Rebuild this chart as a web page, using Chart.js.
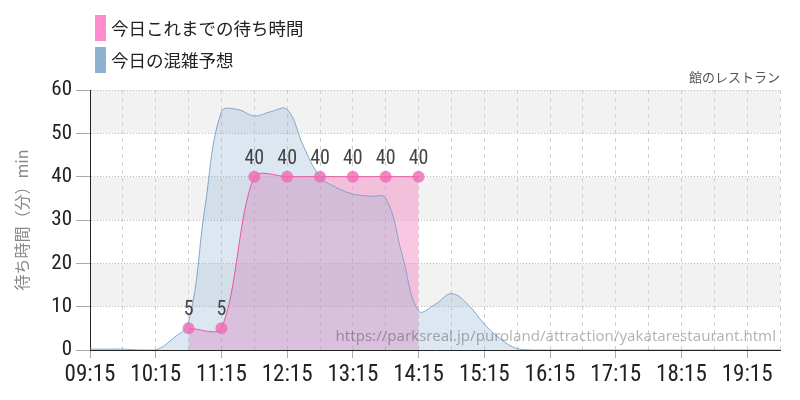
<!DOCTYPE html>
<html lang="ja">
<head>
<meta charset="utf-8">
<title>館のレストラン 待ち時間</title>
<script src="https://cdn.jsdelivr.net/npm/chart.js@4/dist/chart.umd.min.js"></script>
<style>
  html, body { margin: 0; padding: 0; background: #fff; }
  #wrap { width: 800px; height: 400px; position: relative; }
</style>
</head>
<body>
<div id="wrap"><canvas id="waitChart"></canvas></div>
<script>
// forecast, every 15 minutes
var slotTimes = ["09:15", "09:30", "09:45", "10:00", "10:15", "10:30", "10:45", "11:00",
    "11:15", "11:30", "11:45", "12:00", "12:15", "12:30", "12:45", "13:00",
    "13:15", "13:30", "13:45", "14:00", "14:15", "14:30", "14:45", "15:00",
    "15:15", "15:30", "15:45", "16:00", "16:15", "16:30", "16:45", "17:00",
    "17:15", "17:30", "17:45", "18:00", "18:15", "18:30", "18:45", "19:00",
    "19:15", "19:30", "19:45"];
var forecastValues = [0.2, 0.2, 0.2, 0, 0, 2.5, 6.5, 33,
    55, 55.5, 54, 55, 55.5, 47, 40, 37.5,
    36, 35.5, 35, 22, 9, 10.5, 13, 10.5,
    6, 2.5, 0.3, 0, 0, 0, 0, 0,
    0, 0, 0, 0, 0, 0, 0, 0,
    0, 0, 0];

// measured so far today
var actualTimes = ["10:45", "11:15", "11:45", "12:15", "12:45", "13:15", "13:45", "14:15"];
var actualValues = [5, 5, 40, 40, 40, 40, 40, 40];

var hourLabels = ["09:15", "10:15", "11:15", "12:15", "13:15", "14:15", "15:15",
    "16:15", "17:15", "18:15", "19:15"];
var grayBands = [[10, 20], [30, 40], [50, 60]];

var legendNames = ["今日これまでの待ち時間", "今日の混雑予想"];
var legendColors = ["#ff8ccb", "#8fb1d0"];
var cornerText = "館のレストラン";
var sourceUrl = "https://parksreal.jp/puroland/attraction/yakatarestaurant.html";

var narrow = "'Roboto Condensed', 'Liberation Sans Narrow', 'DejaVu Sans Condensed', 'DejaVu Sans', sans-serif";
var jp = "'Noto Sans CJK JP', 'Noto Sans', sans-serif";

function toMin(t) {
    var p = t.split(":");
    return +p[0] * 60 + +p[1];
}
function fmt(m) {
    var h = Math.floor(m / 60), mm = m % 60;
    return (h < 10 ? "0" : "") + h + ":" + (mm < 10 ? "0" : "") + mm;
}

var xMin = toMin(slotTimes[0]);
var xMax = toMin(slotTimes[slotTimes.length - 1]);

var bandsPlugin = {
    id: "bands",
    beforeDraw: function (chart) {
        var ctx = chart.ctx, a = chart.chartArea, y = chart.scales.y;
        ctx.save();
        ctx.fillStyle = "#f2f2f2";
        grayBands.forEach(function (b) {
            var top = y.getPixelForValue(b[1]), bot = y.getPixelForValue(b[0]);
            ctx.fillRect(a.left, top, a.right - a.left, bot - top);
        });
        ctx.restore();
    }
};

var pointLabels = {
    id: "pointLabels",
    afterDatasetsDraw: function (chart) {
        var ctx = chart.ctx;
        var meta = chart.getDatasetMeta(0);
        ctx.save();
        ctx.font = "condensed 20px " + narrow;
        ctx.fillStyle = "#444";
        ctx.textAlign = "center";
        ctx.textBaseline = "bottom";
        meta.data.forEach(function (pt, i) {
            ctx.fillText(String(actualValues[i]), pt.x, pt.y - 8);
        });
        ctx.restore();
    }
};

var extras = {
    id: "extras",
    afterDraw: function (chart) {
        var ctx = chart.ctx, a = chart.chartArea;
        ctx.save();
        // legend, stacked
        ctx.textAlign = "left";
        ctx.textBaseline = "middle";
        ctx.font = "17.5px " + jp;
        legendNames.forEach(function (name, i) {
            var top = 15 + i * 32;
            ctx.fillStyle = legendColors[i];
            ctx.fillRect(95, top, 11, 26);
            ctx.fillStyle = "#222";
            ctx.fillText(name, 111, top + 13);
        });
        // caption top right
        ctx.font = "13px " + jp;
        ctx.fillStyle = "#555";
        ctx.textAlign = "right";
        ctx.fillText(cornerText, a.right, a.top - 13);
        // source url
        ctx.font = "15px 'Noto Sans', sans-serif";
        ctx.fillStyle = "rgba(0,0,0,0.3)";
        ctx.fillText(sourceUrl, a.right - 4, a.bottom - 13);
        ctx.restore();
    }
};

new Chart("waitChart", {
    type: "line",
    data: {
        datasets: [{
            label: legendNames[0],
            order: 1,
            data: actualTimes.map(function (t, i) { return { x: toMin(t), y: actualValues[i] }; }),
            borderColor: "#e9559f",
            borderWidth: 1,
            backgroundColor: "rgba(245,130,190,0.45)",
            fill: "origin",
            tension: 0.3,
            pointRadius: 6,
            pointHoverRadius: 6,
            pointBorderWidth: 0,
            pointBackgroundColor: "rgba(240,105,180,0.8)"
        }, {
            label: legendNames[1],
            order: 0,
            data: slotTimes.map(function (t, i) { return { x: toMin(t), y: forecastValues[i] }; }),
            borderColor: "rgba(120,160,200,0.9)",
            borderWidth: 1,
            backgroundColor: "rgba(143,177,208,0.3)",
            fill: "origin",
            tension: 0.4,
            pointRadius: 0
        }]
    },
    options: {
        responsive: true,
        maintainAspectRatio: false,
        animation: false,
        layout: { padding: { top: 90, right: 20, left: 0, bottom: 0 } },
        plugins: {
            legend: { display: false },
            title: { display: false },
            tooltip: { enabled: false },
            filler: { drawTime: "beforeDatasetsDraw" }
        },
        scales: {
            x: {
                type: "linear",
                min: xMin,
                max: xMax,
                afterBuildTicks: function (scale) {
                    var ticks = [];
                    for (var v = xMin; v <= xMax; v += 30) ticks.push({ value: v });
                    scale.ticks = ticks;
                },
                afterFit: function (scale) { scale.height = 50; },
                ticks: {
                    autoSkip: false,
                    maxRotation: 0,
                    padding: 3,
                    color: "#222",
                    font: { family: narrow, size: 23, weight: "condensed" },
                    callback: function (v) {
                        return hourLabels.indexOf(fmt(v)) >= 0 ? fmt(v) : "";
                    }
                },
                grid: {
                    color: "#d0d0d0",
                    tickLength: 8,
                    tickColor: function (c) {
                        return c.tick && hourLabels.indexOf(fmt(c.tick.value)) >= 0 ? "#aaa" : "rgba(0,0,0,0)";
                    }
                },
                border: { display: true, color: "#222", width: 1, dash: [4, 4] }
            },
            y: {
                min: 0,
                max: 60,
                afterFit: function (scale) { scale.width = 90; },
                ticks: {
                    stepSize: 10,
                    padding: 4,
                    color: "#222",
                    font: { family: narrow, size: 21, weight: "condensed" }
                },
                grid: {
                    color: "#bbb",
                    tickLength: 14,
                    tickColor: "#aaa"
                },
                border: { display: true, color: "#222", width: 1, dash: [1, 2] },
                title: {
                    display: true,
                    text: "待ち時間（分）min",
                    color: "#888",
                    font: { family: jp, size: 16 },
                    padding: { top: 12, bottom: 0 }
                }
            }
        }
    },
    plugins: [bandsPlugin, pointLabels, extras]
});
</script>
</body>
</html>
